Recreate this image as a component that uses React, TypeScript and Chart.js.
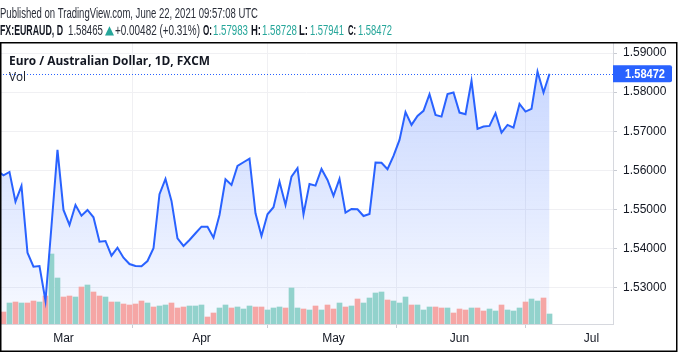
import React, { useEffect, useRef } from "react";
import { Chart, registerables } from "chart.js";

Chart.register(...registerables);

// Daily closes, EUR/AUD, first value is Feb 12 2021 (index -1), last is Jun 22 2021 (index 91)
const firstIdx = -1;
const closes = [
  1.55982, 1.55867, 1.55956, 1.55195, 1.55597, 1.53887, 1.53528, 1.53546, 1.52656, 1.54572,
  1.56521, 1.54982, 1.54597, 1.5511, 1.54836, 1.54982, 1.54795, 1.54169, 1.54187, 1.5381,
  1.54015, 1.53759, 1.53597, 1.53546, 1.5354, 1.53674, 1.54, 1.55385, 1.55777, 1.55213,
  1.54256, 1.54059, 1.54213, 1.54385, 1.54554, 1.5455, 1.54272, 1.54854, 1.55769, 1.55623,
  1.5611, 1.56205, 1.56297, 1.54897, 1.54315, 1.54872, 1.55051, 1.55708, 1.5511, 1.55836,
  1.56051, 1.54872, 1.55649, 1.55605, 1.56033, 1.55751, 1.55341, 1.55777, 1.54913, 1.55008,
  1.55, 1.54828, 1.54879, 1.56195, 1.5619, 1.56026, 1.56367, 1.56777, 1.5749, 1.57162,
  1.57392, 1.57521, 1.57949, 1.57418, 1.57374, 1.5795, 1.5799, 1.57477, 1.57436, 1.5829,
  1.57059, 1.57118, 1.57136, 1.57462, 1.56964, 1.57162, 1.57092, 1.577, 1.57503, 1.57572,
  1.58528, 1.5799, 1.58472,
];
const volumes = [
  14, 12, 21, 22, 21, 21, 23, 22, 28, 70,
  46, 27, 28, 27, 37, 39, 32, 28, 27, 22,
  22, 20, 19, 20, 23, 21, 17, 18, 19, 21,
  16, 17, 18, 18, 19, 7, 11, 16, 19, 16,
  17, 15, 18, 17, 17, 14, 16, 17, 16, 36,
  16, 15, 14, 18, 14, 19, 15, 21, 17, 18,
  25, 21, 26, 31, 32, 24, 23, 21, 27, 19,
  19, 14, 17, 17, 16, 16, 11, 15, 14, 16,
  16, 13, 15, 13, 19, 14, 13, 16, 22, 25,
  23, 26, 10,
];
// 1 = up (teal), 0 = down (red)
const volUp = [
  0, 0, 1, 0, 1, 0, 0, 1, 0, 1,
  1, 0, 0, 1, 0, 1, 0, 0, 1, 0,
  1, 0, 0, 0, 0, 1, 0, 1, 1, 0,
  0, 0, 1, 1, 1, 0, 0, 1, 1, 0,
  1, 1, 1, 0, 0, 1, 1, 1, 0, 1,
  1, 0, 1, 0, 1, 0, 0, 1, 0, 1,
  0, 1, 1, 1, 1, 0, 1, 1, 1, 0,
  1, 1, 1, 0, 0, 1, 0, 0, 0, 1,
  0, 0, 1, 1, 0, 1, 1, 1, 0, 1,
  1, 0, 1,
];
const monthTickIdx = [10, 33, 55, 76, 98];
const monthLabels = ["Mar", "Apr", "May", "Jun", "Jul"];
const priceTicks = [1.53, 1.54, 1.55, 1.56, 1.57, 1.58, 1.59];
const lastPrice = 1.58472;

const UP = "#92d2cc";
const DOWN = "#f5a6a5";
const BLUE = "#2962ff";
const TEAL = "#26a69a";
const TXT = "#131722";

const overlay = {
  id: "tvOverlay",
  beforeDatasetsDraw(chart: any) {
    const { ctx, chartArea, scales } = chart;
    const y = Math.round(scales.y.getPixelForValue(lastPrice)) + 0.5;
    ctx.save();
    ctx.strokeStyle = BLUE;
    ctx.lineWidth = 1;
    ctx.setLineDash([1, 2]);
    ctx.beginPath();
    ctx.moveTo(chartArea.left, y);
    ctx.lineTo(chartArea.right, y);
    ctx.stroke();
    ctx.restore();
  },
  afterDraw(chart: any) {
    const { ctx, chartArea, scales } = chart;
    const fam = '"Liberation Sans Narrow", "Liberation Sans", Arial, sans-serif';
    const seg = (t: string, x: number, y: number, w: number, color: string, bold: boolean, size: number, family = fam) => {
      ctx.font = `${bold ? "bold " : ""}${size}px ${family}`;
      ctx.fillStyle = color;
      ctx.textAlign = "left";
      ctx.textBaseline = "alphabetic";
      ctx.fillText(t, x, y, w);
    };
    ctx.save();
    // header
    seg("Published on TradingView.com, June 22, 2021 09:57:08 UTC", 0, 18, 258, "#2a2e39", false, 15);
    const y2 = 35;
    seg("FX:EURAUD, D", 0, y2, 63, TXT, true, 15);
    seg("1.58465", 68, y2, 35, "#2a2e39", false, 15);
    seg("\u25B2", 105, y2 - 1, 9, TEAL, false, 12, "DejaVu Sans");
    seg("+0.00482 (+0.31%)", 115, y2, 85, "#2a2e39", false, 15);
    seg("O:", 203, y2, 9, TXT, true, 15);
    seg("1.57983", 213, y2, 35, TEAL, false, 15);
    seg("H:", 251, y2, 10, TXT, true, 15);
    seg("1.58728", 262, y2, 35, TEAL, false, 15);
    seg("L:", 299, y2, 9, TXT, true, 15);
    seg("1.57941", 310, y2, 34, TEAL, false, 15);
    seg("C:", 348, y2, 8, TXT, true, 15);
    seg("1.58472", 358, y2, 34, TEAL, false, 15);

    // legend
    const lf = '"Open Sans", "Noto Sans", sans-serif';
    seg("Euro / Australian Dollar, 1D, FXCM", 9, 65, 201, TXT, true, 13, lf);
    seg("Vol", 9, 81, 17, TXT, false, 13, lf);

    // last price label
    const ly = scales.y.getPixelForValue(lastPrice);
    ctx.fillStyle = BLUE;
    ctx.beginPath();
    (ctx as any).roundRect ? (ctx as any).roundRect(chartArea.right, ly - 8.5, 59, 17, [0, 2, 2, 0]) : ctx.rect(chartArea.right, ly - 8.5, 59, 17);
    ctx.fill();
    seg("1.58472", 625, ly + 4.5, 40, "#ffffff", true, 12, '"Liberation Sans", Arial, sans-serif');

    // frame
    ctx.strokeStyle = "#000";
    ctx.lineWidth = 1.5;
    ctx.strokeRect(0.75, 42.75, 676, 308.5);
    ctx.restore();
  },
};

export default function App() {
  const ref = useRef<HTMLCanvasElement | null>(null);
  useEffect(() => {
    const canvas = ref.current!;
    const ctx = canvas.getContext("2d")!;
    const grad = ctx.createLinearGradient(0, 43, 0, 324);
    grad.addColorStop(0, "rgba(41,98,255,0.28)");
    grad.addColorStop(1, "rgba(41,98,255,0.03)");

    const linePts = closes.map((c, k) => ({ x: k + firstIdx, y: c }));
    const volPts = volumes.map((v, k) => ({ x: k + firstIdx, y: v }));

    const chart = new Chart(ctx, {
      type: "line",
      data: {
        datasets: [
          {
            type: "line",
            data: linePts,
            borderColor: BLUE,
            borderWidth: 2,
            backgroundColor: grad,
            fill: "start",
            pointRadius: 0,
            tension: 0,
            yAxisID: "y",
            order: 0,
          } as any,
          {
            type: "bar",
            data: volPts,
            backgroundColor: volUp.map((u) => (u ? UP : DOWN)),
            barThickness: 5,
            yAxisID: "yv",
            order: 1,
          } as any,
        ],
      },
      options: {
        responsive: false,
        animation: false,
        layout: { padding: { top: 43, left: 0, right: 0, bottom: 0 } },
        plugins: {
          legend: { display: false },
          tooltip: { enabled: false },
          filler: { drawTime: "beforeDatasetsDraw" } as any,
        },
        scales: {
          x: {
            type: "linear",
            min: -0.58,
            max: 101.58,
            offset: false,
            afterBuildTicks: (axis: any) => {
              axis.ticks = monthTickIdx.map((v) => ({ value: v }));
            },
            afterFit: (axis: any) => {
              axis.height = 35;
            },
            grid: { color: "#f0f0f3", tickLength: 4, tickColor: "#c9ccd3" },
            border: { color: "#d6d8de" },
            ticks: {
              autoSkip: false,
              maxRotation: 0,
              padding: 3,
              color: TXT,
              font: { family: '"Liberation Sans", Arial, sans-serif', size: 12 },
              callback: (v: any) => monthLabels[monthTickIdx.indexOf(Number(v))] ?? "",
            },
          },
          y: {
            type: "linear",
            position: "right",
            min: 1.5206,
            max: 1.5926,
            afterBuildTicks: (axis: any) => {
              axis.ticks = priceTicks.map((v) => ({ value: v }));
            },
            afterFit: (axis: any) => {
              axis.width = 65;
            },
            grid: { color: "#f0f0f3", tickLength: 4, tickColor: "#c9ccd3" },
            border: { color: "#d6d8de" },
            ticks: {
              padding: 6,
              color: TXT,
              font: { family: '"Liberation Sans", Arial, sans-serif', size: 12 },
              callback: (v: any) => Number(v).toFixed(5),
            },
          },
          yv: {
            type: "linear",
            display: false,
            min: 0,
            max: 281,
          },
        },
      },
      plugins: [overlay],
    });
    return () => chart.destroy();
  }, []);

  return (
    <div style={{ position: "fixed", left: 0, top: 0, width: 678, height: 359, background: "#fff" }}>
      <canvas ref={ref} width={678} height={359} style={{ display: "block", width: 678, height: 359 }} />
    </div>
  );
}
